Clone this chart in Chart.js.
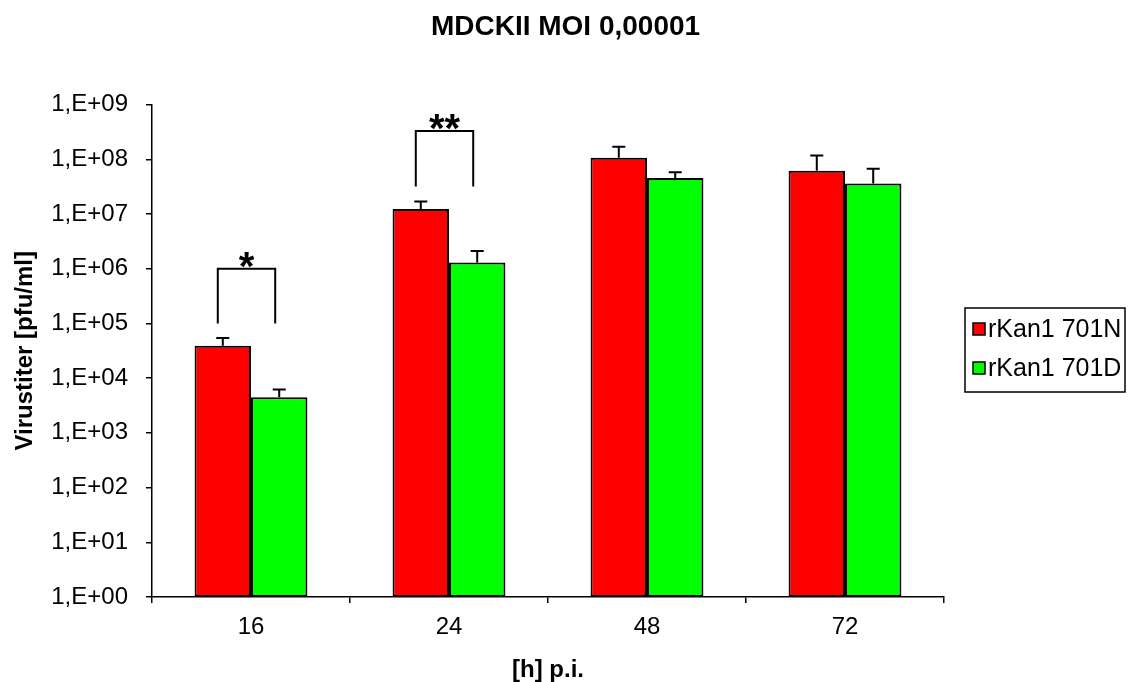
<!DOCTYPE html>
<html>
<head>
    <title>MDCKII MOI 0,00001</title>
    <script src="https://cdn.jsdelivr.net/npm/chart.js"></script>
    <style>
        body {
            margin: 0;
            padding: 0;
            background-color: #ffffff;
        }
        .chart-container {
            width: 1131px;
            height: 682px;
        }
    </style>
</head>
<body>
    <div class="chart-container">
        <canvas id="titerChart"></canvas>
    </div>

    <script>
        // Daten
        const hours = ['16', '24', '48', '72'];
        const seriesNames = ['rKan1 701N', 'rKan1 701D'];
        const titer701N = [3.9e4, 1.24e7, 1.07e8, 6.2e7];
        const titer701D = [4.5e3, 1.3e6, 4.55e7, 3.6e7];
        // obere Fehlerbalken (Mittelwert + SD)
        const upper701N = [5.4e4, 1.7e7, 1.7e8, 1.17e8];
        const upper701D = [6.2e3, 2.1e6, 5.8e7, 6.7e7];
        // Signifikanzklammern
        const sigHours = ['16', '24'];
        const sigLow = [1e5, 3.2e7];
        const sigHigh = [1e6, 3.3e8];
        const sigStars = ['*', '**'];
        // y-Achse
        const yTickValues = [1, 1e1, 1e2, 1e3, 1e4, 1e5, 1e6, 1e7, 1e8, 1e9];
        const yTickLabels = ['1,E+00', '1,E+01', '1,E+02', '1,E+03', '1,E+04',
                             '1,E+05', '1,E+06', '1,E+07', '1,E+08', '1,E+09'];

        const FONT = "'Liberation Sans', Arial, sans-serif";

        // Fehlerbalken + Signifikanz
        const errorBars = {
            id: 'errorBars',
            afterDatasetsDraw(chart) {
                const ctx = chart.ctx;
                const y = chart.scales.y;
                const uppers = [upper701N, upper701D];
                ctx.save();
                ctx.strokeStyle = '#000';
                ctx.lineWidth = 2;
                uppers.forEach((up, i) => {
                    const meta = chart.getDatasetMeta(i);
                    meta.data.forEach((bar, j) => {
                        const top = y.getPixelForValue(up[j]);
                        ctx.beginPath();
                        ctx.moveTo(bar.x, bar.y);
                        ctx.lineTo(bar.x, top);
                        ctx.moveTo(bar.x - 6.5, top);
                        ctx.lineTo(bar.x + 6.5, top);
                        ctx.stroke();
                    });
                });

                const red = chart.getDatasetMeta(0).data;
                const green = chart.getDatasetMeta(1).data;
                sigHours.forEach((h, k) => {
                    const j = hours.indexOf(h);
                    const x1 = red[j].x - 5;
                    const x2 = green[j].x - 4;
                    const yl = y.getPixelForValue(sigLow[k]);
                    const yh = y.getPixelForValue(sigHigh[k]);
                    ctx.beginPath();
                    ctx.moveTo(x1, yl);
                    ctx.lineTo(x1, yh);
                    ctx.lineTo(x2, yh);
                    ctx.lineTo(x2, yl);
                    ctx.stroke();
                    ctx.fillStyle = '#000';
                    ctx.font = 'bold 40px ' + FONT;
                    ctx.textAlign = 'center';
                    ctx.textBaseline = 'alphabetic';
                    ctx.fillText(sigStars[k], (x1 + x2) / 2, yh + 11);
                });
                ctx.restore();
            }
        };

        // Legende mit Rahmen
        const boxedLegend = {
            id: 'boxedLegend',
            afterDraw(chart) {
                const ctx = chart.ctx;
                const area = chart.chartArea;
                const left = area.right + 21;
                const top = 308;
                ctx.save();
                ctx.strokeStyle = '#000';
                ctx.lineWidth = 1.5;
                ctx.strokeRect(left, top, 160, 84);
                ctx.font = '25px ' + FONT;
                ctx.textBaseline = 'middle';
                ctx.textAlign = 'left';
                chart.data.datasets.forEach((ds, i) => {
                    const cy = top + 21 + i * 39;
                    ctx.fillStyle = ds.backgroundColor;
                    ctx.fillRect(left + 8, cy - 6, 12, 12);
                    ctx.lineWidth = 1.5;
                    ctx.strokeRect(left + 8, cy - 6, 12, 12);
                    ctx.fillStyle = '#000';
                    ctx.fillText(ds.label, left + 23, cy + 1);
                });
                ctx.restore();
            }
        };

        const ctx = document.getElementById('titerChart').getContext('2d');
        const chart = new Chart(ctx, {
            type: 'bar',
            data: {
                labels: hours,
                datasets: [
                    {
                        label: seriesNames[0],
                        data: titer701N,
                        backgroundColor: '#FF0000',
                        borderColor: '#000000',
                        borderWidth: 2,
                        borderSkipped: false,
                        categoryPercentage: 0.57,
                        barPercentage: 1.0
                    },
                    {
                        label: seriesNames[1],
                        data: titer701D,
                        backgroundColor: '#00FF00',
                        borderColor: '#000000',
                        borderWidth: 2,
                        borderSkipped: false,
                        categoryPercentage: 0.57,
                        barPercentage: 1.0
                    }
                ]
            },
            options: {
                responsive: true,
                maintainAspectRatio: false,
                animation: false,
                layout: {
                    padding: 0
                },
                scales: {
                    y: {
                        type: 'logarithmic',
                        min: 1,
                        max: 1e9,
                        afterBuildTicks(scale) {
                            scale.ticks = yTickValues.map(v => ({ value: v }));
                        },
                        afterFit(scale) {
                            scale.width = 152;
                        },
                        ticks: {
                            color: '#000',
                            padding: 18,
                            font: { family: FONT, size: 24 },
                            callback: (v, i) => yTickLabels[i]
                        },
                        grid: {
                            drawOnChartArea: false,
                            drawTicks: true,
                            tickLength: 6,
                            color: '#000',
                            lineWidth: 1.5
                        },
                        border: { color: '#000', width: 1.5 },
                        title: {
                            display: true,
                            text: 'Virustiter [pfu/ml]',
                            color: '#000',
                            padding: { top: 11, bottom: 0 },
                            font: { family: FONT, size: 24, weight: 'bold' }
                        }
                    },
                    // leerer Platz rechts fuer die Legende
                    legendSpace: {
                        type: 'linear',
                        position: 'right',
                        display: true,
                        afterFit(scale) {
                            scale.width = 187;
                        },
                        ticks: { display: false },
                        grid: { display: false, drawTicks: false },
                        border: { display: false }
                    },
                    x: {
                        afterFit(scale) {
                            scale.height = 85;
                        },
                        ticks: {
                            color: '#000',
                            padding: 10,
                            font: { family: FONT, size: 24 }
                        },
                        grid: {
                            offset: true,
                            drawOnChartArea: false,
                            drawTicks: true,
                            tickLength: 6,
                            color: '#000',
                            lineWidth: 1.5
                        },
                        border: { color: '#000', width: 1.5 },
                        title: {
                            display: true,
                            text: '[h] p.i.',
                            color: '#000',
                            padding: { top: 0, bottom: 0 },
                            font: { family: FONT, size: 24, weight: 'bold', lineHeight: 1.0 }
                        }
                    }
                },
                plugins: {
                    legend: { display: false },
                    tooltip: { enabled: false },
                    title: {
                        display: true,
                        text: 'MDCKII MOI 0,00001',
                        color: '#000',
                        padding: { top: 10, bottom: 61 },
                        font: { family: FONT, size: 28, weight: 'bold' }
                    }
                }
            },
            plugins: [errorBars, boxedLegend]
        });
    </script>
</body>
</html>
